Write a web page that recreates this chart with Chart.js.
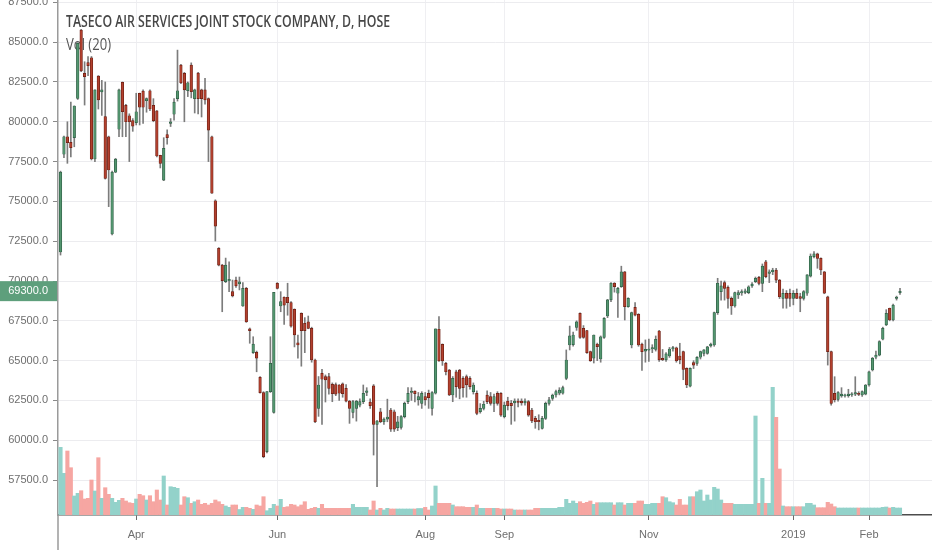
<!doctype html>
<html lang="en">

<head>
	<meta charset="utf-8">
	<title>TASECO AIR SERVICES JOINT STOCK COMPANY, D, HOSE</title>
	<style>
		* {
			margin: 0;
			padding: 0;
		}

		body {
			background: #ffffff;
		}

		.chartBox {
			position: relative;
			width: 932px;
			height: 550px;
		}
	</style>
</head>

<body>
	<div class="chartBox">
		<canvas id="priceChart"></canvas>
	</div>
	<script src="https://cdn.jsdelivr.net/npm/chart.js"></script>

	<script>
		const chartTitle = 'TASECO AIR SERVICES JOINT STOCK COMPANY, D, HOSE'
		const volLabel = 'Vol (20)'

		// daily candles, Mar 2018 - Feb 2019 (one entry per trading day)
		const opens = [
			71820, 77960, 79060, 78710, 79000, 81470, 85760, 83040, 83710, 84020,
			77660, 82870, 81880, 80320, 79060, 72950, 76830, 79530, 82480, 81030,
			80380, 80070, 79940, 81790, 81930, 81320, 81950, 81030, 80680, 77890,
			76340, 79190, 79900, 80470, 81450, 83560, 83040, 81950, 83560, 81450,
			83060, 82000, 82000, 81450, 79060, 75040, 72050, 71000, 69960, 70020,
			69330, 70060, 69820, 68430, 69540, 67000, 65500, 65520, 63950, 62990,
			59280, 63050, 61750, 69850, 68430, 68980, 68980, 68640, 68220, 66120,
			67970, 67340, 67440, 67030, 65040, 62000, 64200, 64000, 63990, 63510,
			63500, 63470, 63540, 63260, 62460, 61750, 62000, 62210, 62420, 63000,
			62400, 63410, 61000, 61790, 61160, 61330, 61900, 61790, 60790, 60810,
			61480, 62420, 63000, 63080, 62530, 62320, 62740, 62950, 62000, 62950,
			66970, 66020, 64830, 64410, 62840, 64300, 64410, 63890, 63990, 63890,
			63050, 62950, 61790, 62000, 62840, 62740, 62320, 62950, 62950, 61480,
			62460, 62320, 62350, 62400, 62460, 62350, 62420, 61900, 61370, 61250,
			60750, 61370, 62320, 62630, 62840, 62950, 62950, 63890, 65980, 66000,
			67090, 67970, 67030, 66880, 65560, 65150, 66030, 65100, 66460, 67800,
			68810, 69860, 69230, 69640, 70580, 68390, 65980, 68350, 67910, 66030,
			65600, 65650, 65730, 65710, 66860, 65140, 65040, 65290, 65730, 65810,
			65290, 65560, 64520, 63400, 64870, 64830, 65210, 65460, 65460, 65920,
			65980, 68010, 69330, 69900, 69600, 68910, 68430, 69120, 69250, 69290,
			69270, 69690, 69960, 70230, 69850, 71210, 70480, 70580, 70690, 70060,
			68910, 69230, 69230, 68910, 69230, 69020, 68910, 69230, 70310, 71530,
			71700, 71420, 70580, 69010, 65560, 62950, 62570, 62780, 62780, 62800,
			62840, 62900, 62950, 62840, 62900, 63470, 64410, 65210, 65350, 66340,
			67240, 68290, 67550, 68910, 69270
		]
		const highs = [
			76900, 79100, 80000, 81240, 81000, 84950, 85800, 83770, 84100, 84100,
			82000, 82900, 82600, 82500, 79100, 76900, 77700, 82050, 82500, 81100,
			80500, 80200, 81790, 81800, 82000, 81500, 82000, 81450, 80700, 77900,
			79000, 79500, 80200, 81450, 84500, 83600, 83100, 82500, 83700, 82050,
			83100, 82050, 82730, 81500, 79100, 75100, 72100, 71050, 71440, 71210,
			70060, 70250, 70250, 69900, 69600, 67050, 66500, 65600, 64000, 63050,
			63050, 66500, 69290, 69900, 69330, 69000, 69860, 68700, 68250, 66600,
			68000, 67700, 67800, 67100, 65100, 64000, 64450, 64100, 64200, 63600,
			63600, 63500, 63600, 63500, 62500, 62500, 62500, 62600, 63470, 63300,
			62600, 63500, 61250, 62000, 61400, 62580, 62000, 61900, 61500, 61550,
			62400, 63300, 63300, 63100, 63000, 63050, 63000, 63150, 63050, 66990,
			67760, 66050, 64900, 64450, 64000, 64400, 64450, 64000, 64100, 64000,
			63600, 63100, 62300, 62450, 63100, 63000, 62900, 63050, 63000, 62400,
			62700, 62500, 62600, 62600, 62600, 62600, 62500, 62000, 61500, 61600,
			61500, 62400, 62700, 62900, 63150, 63300, 63400, 65670, 67170, 66800,
			67500, 68000, 67200, 66900, 65600, 66610, 66100, 66550, 67700, 68850,
			69900, 69900, 69600, 70930, 70600, 68950, 68050, 68640, 67950, 66100,
			66300, 66350, 66000, 66550, 66900, 65700, 65500, 65830, 65900, 65850,
			66090, 65600, 64550, 64550, 65000, 65250, 65600, 65700, 65900, 66100,
			68050, 70170, 70000, 70000, 69700, 69000, 69300, 69400, 69450, 69500,
			69700, 69900, 70250, 70300, 71070, 71300, 70700, 70800, 70800, 70100,
			69500, 69400, 69500, 69400, 69500, 69230, 69400, 70400, 71700, 71840,
			71750, 71450, 70600, 69050, 65600, 63990, 63050, 63300, 62900, 63200,
			63000, 63990, 63050, 63100, 63500, 64350, 65200, 65600, 66250, 67100,
			68200, 68300, 68550, 69050, 69540
		]
		const lows = [
			71630, 77750, 77390, 77800, 78430, 81400, 83150, 81050, 82900, 77600,
			77500, 80800, 80400, 76400, 74670, 72900, 76800, 79060, 79060, 79060,
			77500, 79400, 79800, 79800, 79900, 80600, 80700, 80000, 77800, 77100,
			76300, 78600, 79700, 80100, 81300, 82400, 80000, 81580, 81500, 80550,
			80500, 80300, 81100, 77500, 75500, 72510, 70950, 68070, 69900, 69330,
			69000, 69600, 69440, 68400, 67400, 66090, 65450, 64300, 62950, 58900,
			59200, 63000, 61700, 69500, 68070, 67280, 67850, 67100, 65860, 65150,
			64650, 65500, 67000, 64900, 61100, 61500, 61000, 62400, 62900, 62420,
			62800, 62500, 62700, 62400, 61060, 61400, 61200, 62100, 62300, 62800,
			62000, 59070, 57090, 61100, 61000, 61160, 60550, 60550, 60600, 60700,
			61400, 62300, 62500, 62400, 62200, 62000, 62200, 62000, 61580, 62900,
			64950, 64700, 64100, 62800, 62420, 62700, 62600, 62700, 62700, 63200,
			62900, 61600, 61700, 61900, 62300, 62200, 61800, 62200, 61500, 61400,
			61900, 61000, 61200, 62100, 62200, 62200, 61500, 61100, 60750, 60650,
			60700, 61300, 62200, 62500, 62700, 62850, 62900, 63800, 65670, 65900,
			66900, 66400, 66400, 65450, 64950, 64850, 65000, 64900, 66400, 67700,
			68700, 69300, 67710, 69600, 67550, 68350, 65800, 67800, 65900, 64390,
			64900, 64950, 65500, 65600, 64950, 65000, 64950, 65200, 65600, 64900,
			64800, 63800, 63300, 63350, 64500, 64700, 65100, 65300, 65400, 65850,
			65900, 67900, 68800, 68800, 68290, 67900, 68350, 68900, 69100, 69200,
			69200, 69600, 69900, 69750, 69330, 70200, 69900, 70400, 69900, 68900,
			68290, 68290, 68400, 68500, 68900, 68070, 68800, 69100, 70250, 71450,
			70800, 70400, 69200, 64720, 62200, 62400, 62450, 62700, 62700, 62700,
			62750, 62800, 62800, 62750, 62850, 63400, 64350, 65100, 65300, 66300,
			67200, 67500, 67500, 68800, 69150
		]
		const closes = [
			76845, 79060, 78690, 78370, 80990, 84930, 83200, 82830, 83520, 77660,
			82000, 81370, 82010, 76450, 76970, 76830, 77660, 82000, 80630, 80000,
			80000, 79730, 80630, 80910, 80910, 81450, 80800, 80070, 77850, 77390,
			78330, 79000, 80000, 81240, 81950, 82450, 82000, 82450, 81890, 82000,
			81450, 81450, 81370, 79480, 75510, 73450, 71000, 70020, 71000, 70100,
			69060, 69690, 69950, 69540, 67440, 66880, 66040, 65150, 62990, 58970,
			63050, 64830, 69290, 69540, 68700, 68490, 68640, 67170, 66610, 65980,
			66880, 66880, 67030, 65040, 61160, 63470, 63830, 63790, 63260, 62920,
			62900, 62950, 62920, 62460, 62000, 62420, 62460, 62420, 62950, 63100,
			62170, 61000, 61210, 61160, 61330, 61460, 60700, 60700, 61160, 61480,
			62320, 62950, 63080, 62920, 62740, 62950, 62530, 62670, 62990, 66990,
			64980, 64980, 64300, 62840, 63890, 63360, 63260, 63300, 63470, 63360,
			63470, 61690, 62000, 62260, 62420, 62320, 62740, 62320, 61580, 62210,
			62170, 62170, 62460, 62380, 62350, 62460, 61580, 61210, 61160, 61160,
			61370, 62320, 62530, 62840, 63050, 63150, 63300, 65040, 66550, 66610,
			67440, 66460, 66460, 65500, 65000, 66610, 65880, 66500, 67660, 68810,
			69860, 69640, 69540, 70580, 68390, 68910, 68010, 67860, 65980, 65560,
			65710, 65700, 65820, 66340, 65040, 65040, 65420, 65730, 65820, 64990,
			65040, 64450, 63470, 64520, 64720, 65210, 65560, 65670, 65870, 66030,
			68010, 69860, 69690, 69540, 68910, 68430, 69270, 69270, 69330, 69380,
			69640, 69810, 70170, 69850, 70940, 70270, 70580, 70690, 70060, 69010,
			69230, 68910, 68910, 69230, 68910, 68910, 69330, 70380, 71570, 71700,
			71420, 70690, 69230, 65560, 62320, 62530, 62990, 62900, 62840, 62900,
			62920, 62990, 62870, 63050, 63470, 64300, 65150, 65350, 66190, 67030,
			67970, 67550, 68490, 68980, 69300
		]
		// volume, thousand shares
		const volumes = [
			677, 417, 640, 473, 190, 217, 243, 160, 167, 350,
			240, 573, 167, 273, 207, 167, 127, 147, 167, 140,
			123, 117, 160, 207, 193, 150, 193, 133, 250, 150,
			390, 100, 283, 277, 267, 100, 183, 173, 117, 133,
			150, 107, 117, 100, 117, 150, 133, 107, 90, 77,
			100, 100, 55, 77, 77, 67, 57, 100, 90, 183,
			43, 67, 107, 90, 157, 77, 83, 107, 100, 83,
			100, 133, 57, 67, 77, 67, 107, 67, 67, 67,
			67, 67, 67, 67, 67, 107, 77, 77, 77, 77,
			50, 140, 50, 67, 50, 67, 60, 60, 60, 60,
			60, 60, 60, 60, 65, 65, 77, 50, 90, 290,
			117, 117, 117, 117, 100, 83, 83, 83, 77, 77,
			77, 100, 67, 67, 67, 67, 67, 67, 60, 60,
			60, 60, 50, 50, 50, 50, 50, 50, 67, 67,
			67, 67, 67, 67, 67, 77, 77, 157, 117, 140,
			117, 133, 117, 127, 140, 107, 123, 123, 123, 123,
			123, 100, 123, 123, 100, 117, 117, 117, 140, 140,
			107, 107, 117, 117, 117, 183, 173, 133, 123, 100,
			157, 100, 100, 183, 183, 233, 250, 140, 200, 150,
			277, 260, 150, 117, 117, 117, 107, 107, 107, 107,
			107, 107, 990, 117, 367, 117, 117, 1277, 977, 460,
			90, 83, 83, 83, 83, 83, 83, 117, 117, 100,
			73, 73, 73, 127, 110, 83, 70, 70, 70, 70,
			70, 70, 70, 70, 70, 70, 70, 70, 70, 77,
			80, 70, 77, 70, 70
		]

		// bar index of the first trading day of the labelled months
		const tickIdx = [22, 63, 106, 129, 171, 213, 235]
		const tickLabels = ['Apr', 'Jun', 'Aug', 'Sep', 'Nov', '2019', 'Feb']
		const priceTicks = [57500, 60000, 62500, 65000, 67500, 70000, 72500, 75000, 77500, 80000, 82500, 85000, 87500]

		const upBody = '#53966f'
		const upBorder = '#2d5b43'
		const downBody = '#b2402e'
		const downBorder = '#6a1d12'
		const wickColor = '#7c7c7c'
		const volUp = '#93d2ca'
		const volDown = '#f6a6a2'
		const axisFont = { family: '"Liberation Sans", Arial, sans-serif', size: 11 }

		const isUp = closes.map((c, i) => c >= opens[i])
		const wickData = highs.map((h, i) => ({ x: i, y: [lows[i], h] }))
		const bodyData = opens.map((o, i) => ({ x: i, y: [o, closes[i]] }))
		const volData = volumes.map((v, i) => ({ x: i, y: v }))

		// condensed caption text, squeezed to the width the source shows
		function drawCondensed(ctx, text, x, y, font, width) {
			ctx.font = font
			const sx = width / ctx.measureText(text).width
			ctx.save()
			ctx.translate(x, y)
			ctx.scale(sx, 1)
			ctx.fillText(text, 0, 0)
			ctx.restore()
		}

		// symbol name and volume study caption, under the candles
		const legendText = {
			id: 'legendText',
			beforeDatasetsDraw(chart) {
				const { ctx, chartArea } = chart
				ctx.save()
				ctx.fillStyle = '#474747'
				ctx.textBaseline = 'middle'
				drawCondensed(ctx, chartTitle, chartArea.left + 8, 22, '600 16px "Open Sans", "Liberation Sans", sans-serif', 324)
				ctx.fillStyle = '#555555'
				drawCondensed(ctx, volLabel, chartArea.left + 8, 45, '16px "Open Sans", "Liberation Sans", sans-serif', 45)
				ctx.restore()
			}
		}

		// last price flag on the price scale
		const lastPrice = {
			id: 'lastPrice',
			afterDraw(chart) {
				const { ctx, chartArea, scales } = chart
				const v = closes[closes.length - 1]
				const py = scales.y.getPixelForValue(v)
				ctx.save()
				ctx.strokeStyle = '#9a9a9a'
				ctx.lineWidth = 1.5
				ctx.beginPath()
				ctx.moveTo(chartArea.left, chartArea.bottom)
				ctx.lineTo(chartArea.left, chart.height)
				ctx.stroke()
				ctx.fillStyle = '#5e9f7c'
				ctx.fillRect(0, py - 11, chartArea.left - 1, 20)
				ctx.fillStyle = '#ffffff'
				ctx.font = '11px "Liberation Sans", Arial, sans-serif'
				ctx.textAlign = 'right'
				ctx.textBaseline = 'middle'
				ctx.fillText(v.toFixed(1), chartArea.left - 10, py - 1)
				ctx.restore()
			}
		}

		const config = {
			data: {
				datasets: [
					{
						type: 'bar',
						label: 'Volume',
						data: volData,
						yAxisID: 'y2',
						backgroundColor: isUp.map(u => u ? volUp : volDown),
						barPercentage: 1,
						categoryPercentage: 1,
						grouped: false,
						order: 3
					}, {
						type: 'bar',
						label: 'Wick',
						data: wickData,
						yAxisID: 'y',
						backgroundColor: wickColor,
						barThickness: 1,
						grouped: false,
						order: 2
					}, {
						type: 'bar',
						label: 'Body',
						data: bodyData,
						yAxisID: 'y',
						backgroundColor: isUp.map(u => u ? upBody : downBody),
						borderColor: isUp.map(u => u ? upBorder : downBorder),
						borderWidth: 0.7,
						borderSkipped: false,
						barThickness: 2.6,
						minBarLength: 1.2,
						grouped: false,
						order: 1
					}
				]
			},
			options: {
				responsive: true,
				maintainAspectRatio: false,
				animation: false,
				events: [],
				layout: { padding: 0 },
				plugins: {
					legend: { display: false },
					tooltip: { enabled: false }
				},
				scales: {
					x: {
						type: 'linear',
						offset: false,
						min: -0.73,
						max: 253.3,
						afterBuildTicks: s => { s.ticks = tickIdx.map(v => ({ value: v })) },
						afterFit: s => { s.height = 35; s.paddingLeft = 0; s.paddingRight = 0 },
						grid: { offset: false, color: '#efeff2', tickColor: '#6a6a6a', tickLength: 5 },
						border: { color: '#4d4d4d', width: 1.5 },
						ticks: {
							autoSkip: false,
							maxRotation: 0,
							padding: 8,
							color: '#6e6e6e',
							font: axisFont,
							callback: v => tickLabels[tickIdx.indexOf(v)]
						}
					},
					y: {
						position: 'left',
						min: 55305,
						max: 87647,
						afterBuildTicks: s => { s.ticks = priceTicks.map(v => ({ value: v })) },
						afterFit: s => { s.width = 58; s.paddingTop = 0; s.paddingBottom = 0 },
						grid: { color: '#ececef', tickColor: '#8a8a8a', tickLength: 5 },
						border: { color: '#9a9a9a', width: 1.5 },
						ticks: {
							padding: 5,
							color: '#6e6e6e',
							font: axisFont,
							callback: v => v.toFixed(1)
						}
					},
					y2: {
						display: false,
						min: 0,
						max: 5150
					}
				}
			},
			plugins: [legendText, lastPrice]
		}

		const priceChart = new Chart(document.getElementById('priceChart'), config)
	</script>

</body>

</html>
